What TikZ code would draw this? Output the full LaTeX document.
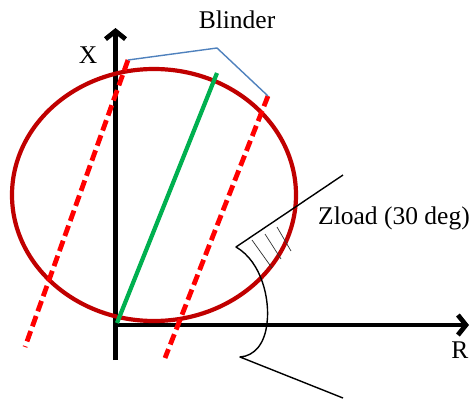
\documentclass[tikz,border=0pt]{standalone}
\usepackage{fontspec}
\setmainfont{Liberation Serif}
\usetikzlibrary{arrows.meta}
\definecolor{ellred}{HTML}{C00000}
\definecolor{dashred}{HTML}{FF0000}
\definecolor{grn}{HTML}{00B050}
\definecolor{blu}{HTML}{4F81BD}
\tikzset{
  axis/.style={line width=4.8pt,-{Straight Barb[length=8pt,width=20pt,line width=4.8pt]}},
  blinderline/.style={dashred,line width=4.8pt,dash pattern=on 11pt off 5pt},
  lbl/.style={font=\fontsize{25.5}{30}\selectfont,inner sep=0pt},
  thinblack/.style={black,line width=1.4pt},
  hatchline/.style={black!80,line width=0.7pt}
}
\begin{document}
\begin{tikzpicture}[x=1pt,y=-1pt]
\useasboundingbox (0,0) rectangle (475,402);
% axes
\coordinate (o) at (115.5,325);
\coordinate (vb) at (115.5,360);
\coordinate (vt) at (115.5,28);
\coordinate (hl) at (113,325);
\coordinate (hr) at (469,325);
\draw[axis] (vb) -- (vt);
\draw[axis] (hl) -- (hr);
% ellipse
\coordinate (ec) at (154,195);
\draw[ellred,line width=4.2pt] (ec) ellipse (142 and 126);
% green
\coordinate (g0) at (117,323);
\coordinate (g1) at (217,73);
\draw[grn,line width=4.2pt] (g0) -- (g1);
% red dashed blinders
\coordinate (a0) at (128,60);
\coordinate (a1) at (25,347);
\coordinate (b0) at (268,96);
\coordinate (b1) at (165,358);
\draw[blinderline] (a0) -- (a1);
\draw[blinderline] (b0) -- (b1);
% blue
\coordinate (bm) at (217,48);
\draw[blu,line width=1.4pt] (a0) -- (bm) -- (b0);
% load region
\coordinate (u1) at (343,175);
\coordinate (u0) at (236,247);
\coordinate (l0) at (240,357);
\coordinate (l1) at (343,398);
\draw[thinblack,line join=round] (u1) -- (u0) .. controls (262,262) and (270,300) .. (267,323)
  .. controls (265,343) and (255,356) .. (l0) -- (l1);
\draw[hatchline] (252,240) -- (272,268);
\draw[hatchline] (265,234) -- (281,259);
\draw[hatchline] (277,227) -- (291,251);
% labels
\node[lbl,anchor=base] (blinder) at (237,28) {Blinder};
\node[lbl,anchor=base] (xl) at (88,63) {X};
\node[lbl,anchor=base west] (zl) at (318,224) {Zload (30 deg)};
\node[lbl,anchor=base] (rl) at (460,358) {R};
\end{tikzpicture}
\end{document}
